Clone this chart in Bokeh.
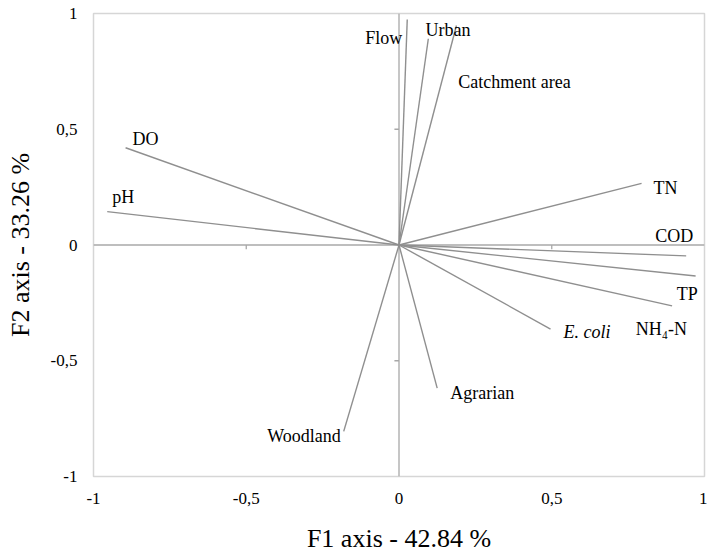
from bokeh.plotting import figure
from bokeh.models import Span, FixedTicker, ColumnDataSource, Range1d, CustomJSTickFormatter
from bokeh.core.properties import value
from bokeh.embed import file_html
from bokeh.resources import INLINE

# ---- data (PCA loadings) ----
variables = ["DO", "pH", "Flow", "Urban", "Catchment area", "TN", "COD", "TP",
             "NH\u2084-N", "E. coli", "Agrarian", "Woodland"]
f1 = [-0.895, -0.955, 0.027, 0.188, 0.096, 0.794, 0.940, 0.971, 0.894, 0.496, 0.125, -0.181]
f2 = [0.420, 0.144, 0.974, 0.948, 0.891, 0.266, -0.047, -0.134, -0.263, -0.363, -0.618, -0.805]
tick_values = [-1, -0.5, 0, 0.5, 1]
inner_ticks = [-0.5, 0.5]

# ---- label styling (screen offsets, alignment, style) ----
label_dx = [7, 5, -5, -31, 30, 12, 7, 2, 15, 13, 13, -3]
label_dy = [-9, -15, 18, 4, 43, 5, -20, 18, 23, 3, 5, 5]
label_align = ["left", "left", "right", "left", "left", "left", "right", "right",
               "right", "left", "left", "right"]
label_style = ["normal"] * 9 + ["italic", "normal", "normal"]

FONT = "Liberation Serif, Times New Roman, serif"
VEC = "#8f8f8f"
AX = "#a8a8a8"

p = figure(width=707, height=555, x_range=Range1d(-1, 1), y_range=Range1d(-1, 1),
           output_backend="svg", toolbar_location=None,
           min_border_left=93, min_border_right=3, min_border_top=13, min_border_bottom=78)
p.background_fill_color = "white"
p.border_fill_color = "white"
p.outline_line_color = "#d6d6d6"
p.outline_line_width = 1.5
p.grid.visible = False

for ax in (p.xaxis[0], p.yaxis[0]):
    ax.ticker = FixedTicker(ticks=tick_values)
    ax.formatter = CustomJSTickFormatter(code="return tick.toString().replace('.', ',');")
    ax.axis_line_color = None
    ax.major_tick_line_color = None
    ax.minor_tick_line_color = None
    ax.major_tick_in = 0
    ax.major_tick_out = 0
    ax.major_label_text_font = FONT
    ax.major_label_text_font_size = "17px"
    ax.major_label_text_color = "black"
    ax.axis_label_text_font = FONT
    ax.axis_label_text_font_size = "26px"
    ax.axis_label_text_font_style = "normal"
    ax.axis_label_text_color = "black"

p.xaxis.axis_label = "F1 axis - 42.84 %"
p.yaxis.axis_label = "F2 axis - 33.26 %"
p.xaxis.major_label_standoff = 16
p.yaxis.major_label_standoff = 16
p.xaxis.axis_label_standoff = 17
p.yaxis.axis_label_standoff = 13

# zero lines
p.add_layout(Span(location=0, dimension="width", line_color=AX, line_width=1.3, level="underlay"))
p.add_layout(Span(location=0, dimension="height", line_color=AX, line_width=1.3, level="underlay"))

# small tick marks on the zero lines
p.segment(x0=inner_ticks, y0=[0, 0], x1=inner_ticks, y1=[-0.018, -0.018], line_color=AX, line_width=1.3)
p.segment(x0=[0, 0], y0=inner_ticks, x1=[-0.015, -0.015], y1=inner_ticks, line_color=AX, line_width=1.3)

src = ColumnDataSource(dict(x=f1, y=f2, label=variables, dx=label_dx, dy=label_dy,
                            align=label_align, style=label_style,
                            x0=[0] * len(f1), y0=[0] * len(f1)))

p.segment(x0="x0", y0="y0", x1="x", y1="y", source=src, line_color=VEC, line_width=1.4)

p.text(x="x", y="y", text="label", source=src, x_offset="dx", y_offset="dy",
       text_align="align", text_baseline="middle", text_font=value(FONT),
       text_font_size=value("18px"), text_font_style="style", text_color="black")

open("out.html", "w").write(file_html(p, INLINE))
